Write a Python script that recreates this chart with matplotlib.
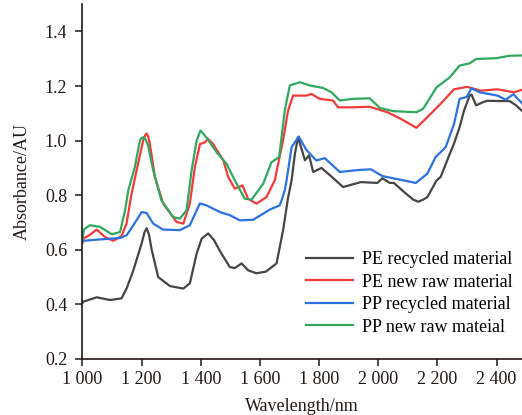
import matplotlib
matplotlib.use('Agg')
import matplotlib.pyplot as plt

plt.rcParams['font.family'] = ['Liberation Serif', 'DejaVu Serif']

# PE recycled material (black)
pe_rec_wl = [1000, 1003, 1048, 1093, 1132, 1150, 1172, 1200, 1210, 1217, 1225, 1234, 1256, 1296, 1341, 1363,
             1386, 1403, 1425, 1445, 1465, 1498, 1515, 1538, 1560, 1588, 1620, 1656, 1678, 1695,
             1707, 1718, 1729, 1752, 1766, 1780, 1808, 1840, 1881, 1941, 1997, 2014, 2039, 2053,
             2087, 2118, 2135, 2152, 2166, 2197, 2211, 2242, 2256, 2275, 2290, 2309, 2315, 2331,
             2354, 2369, 2410, 2444, 2465, 2485]
pe_rec = [0.405, 0.41, 0.426, 0.416, 0.422, 0.46, 0.525, 0.623, 0.665, 0.679, 0.655, 0.60, 0.50, 0.467, 0.458, 0.477,
          0.586, 0.641, 0.66, 0.635, 0.595, 0.537, 0.533, 0.55, 0.525, 0.514, 0.52, 0.55, 0.67, 0.79,
          0.855, 0.95, 1.013, 0.928, 0.946, 0.885, 0.90, 0.87, 0.83, 0.848, 0.845, 0.862, 0.845, 0.845,
          0.812, 0.784, 0.776, 0.784, 0.793, 0.854, 0.867, 0.952, 0.989, 1.049, 1.11, 1.165, 1.169, 1.129,
          1.141, 1.146, 1.145, 1.145, 1.13, 1.11]

# PE new raw material (red)
pe_new_wl = [1000, 1003, 1025, 1048, 1076, 1104, 1132, 1149, 1165, 1183, 1205, 1212, 1217, 1222, 1228, 1245,
             1273, 1318, 1341, 1363, 1380, 1397, 1414, 1425, 1442, 1476, 1493, 1515, 1541, 1560,
             1588, 1622, 1650, 1678, 1695, 1712, 1757, 1774, 1802, 1847, 1864, 1915, 1971, 2031,
             2076, 2124, 2129, 2166, 2211, 2256, 2301, 2346, 2403, 2459, 2485]
pe_new = [0.625, 0.641, 0.655, 0.674, 0.647, 0.633, 0.65, 0.696, 0.80, 0.891, 1.0, 1.02, 1.026, 1.015, 0.987, 0.866,
          0.769, 0.702, 0.696, 0.769, 0.903, 0.987, 0.994, 1.006, 0.987, 0.928, 0.866, 0.824, 0.836, 0.787,
          0.769, 0.793, 0.854, 1.0, 1.11, 1.165, 1.165, 1.171, 1.153, 1.147, 1.122, 1.122, 1.124, 1.104,
          1.08, 1.05, 1.047, 1.086, 1.135, 1.188, 1.197, 1.183, 1.188, 1.177, 1.186]

# PP recycled material (blue)
pp_rec_wl = [1000, 1003, 1059, 1127, 1149, 1172, 1200, 1217, 1239, 1273, 1329, 1363, 1397, 1419,
             1465, 1498, 1532, 1577, 1633, 1667, 1673, 1684, 1690, 1707, 1731, 1757, 1791, 1819,
             1870, 1930, 1975, 2014, 2087, 2127, 2166, 2194, 2228, 2256, 2275, 2299, 2315, 2343,
             2403, 2431, 2457, 2485]
pp_rec = [0.63, 0.633, 0.638, 0.643, 0.653, 0.69, 0.738, 0.735, 0.696, 0.674, 0.672, 0.69, 0.77, 0.763,
          0.738, 0.727, 0.708, 0.71, 0.747, 0.763, 0.781, 0.818, 0.854, 0.976, 1.015, 0.966, 0.927, 0.936,
          0.885, 0.892, 0.895, 0.87, 0.854, 0.845, 0.879, 0.94, 0.976, 1.06, 1.153, 1.16, 1.192, 1.177,
          1.165, 1.15, 1.17, 1.138]

# PP new raw mateial (green)
pp_new_wl = [1000, 1005, 1025, 1059, 1099, 1127, 1144, 1155, 1177, 1194, 1200, 1205, 1213, 1222, 1239, 1267,
             1307, 1329, 1352, 1369, 1386, 1399, 1419, 1453, 1487, 1521, 1549, 1572, 1611, 1639,
             1665, 1684, 1701, 1735, 1769, 1813, 1842, 1870, 1915, 1971, 2005, 2050, 2129, 2152,
             2197, 2242, 2275, 2309, 2331, 2399, 2444, 2485]
pp_new = [0.64, 0.675, 0.69, 0.684, 0.657, 0.665, 0.745, 0.818, 0.903, 1.0, 1.01, 1.012, 1.005, 0.982, 0.891, 0.781,
          0.72, 0.714, 0.745, 0.891, 1.0, 1.037, 1.012, 0.958, 0.915, 0.842, 0.787, 0.784, 0.842, 0.921,
          0.94, 1.11, 1.202, 1.214, 1.202, 1.193, 1.177, 1.147, 1.153, 1.155, 1.12, 1.108, 1.104, 1.117,
          1.195, 1.232, 1.275, 1.283, 1.299, 1.302, 1.311, 1.312]

labels = ['PE recycled material', 'PE new raw material', 'PP recycled material', 'PP new raw mateial']
colors = ['#454545', '#f23a3a', '#2b72e0', '#30a85e']

fig = plt.figure(figsize=(5.22, 4.15), dpi=100)
ax = fig.add_axes([0.158, 0.135, 0.842, 0.855])

series = [(pe_rec_wl, pe_rec), (pe_new_wl, pe_new), (pp_rec_wl, pp_rec), (pp_new_wl, pp_new)]
for (wl, a), lab, c in zip(series, labels, colors):
    ax.plot(wl, a, color=c, lw=1.6, label=lab)

ax.set_xlim(1000, 2486)
ax.set_ylim(0.2, 1.5)
xt = [1000, 1200, 1400, 1600, 1800, 2000, 2200, 2400]
ax.set_xticks(xt)
ax.set_xticklabels(['1 000', '1 200', '1 400', '1 600', '1 800', '2 000', '2 200', '2 400'])
ax.set_yticks([0.2, 0.4, 0.6, 0.8, 1.0, 1.2, 1.4])
ax.set_yticklabels(['0.2', '0.4', '0.6', '0.8', '1.0', '1.2', '1.4'])
ax.tick_params(direction='out', length=5, width=1.1, labelsize=13, colors='#231815')
ax.tick_params(axis='y', pad=6)
ax.spines['top'].set_visible(False)
ax.spines['right'].set_visible(False)
for s in ['left', 'bottom']:
    ax.spines[s].set_linewidth(1.2)
    ax.spines[s].set_color('#231815')

ax.set_xlabel('Wavelength/nm', fontsize=13, color='#231815', labelpad=7)
ax.set_ylabel('Absorbance/AU', fontsize=13, color='#231815', labelpad=10)

ax.legend(loc='lower right', bbox_to_anchor=(1.015, 0.02), frameon=False, fontsize=13,
          handlelength=2.6, handletextpad=0.5, labelspacing=0.3)

fig.savefig('out.png', dpi=100)
